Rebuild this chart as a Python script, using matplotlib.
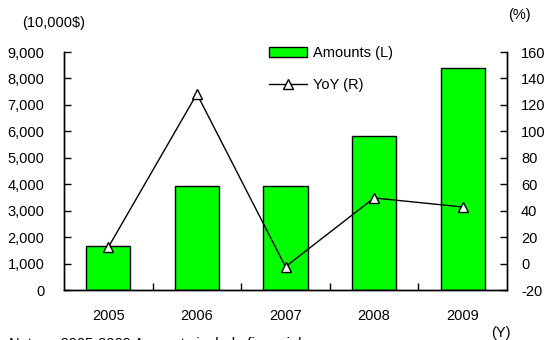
import matplotlib
matplotlib.use("Agg")
import matplotlib.pyplot as plt
from matplotlib.patches import Patch
from matplotlib.lines import Line2D
from matplotlib.ticker import FuncFormatter

# data
years = ["2005", "2006", "2007", "2008", "2009"]
amounts = [1670, 3930, 3930, 5830, 8390]     # 10,000$ (left axis)
yoy = [12.3, 128.3, -2.4, 49.6, 42.8]        # % (right axis)

left_ticks = list(range(0, 9001, 1000))
right_ticks = list(range(-20, 161, 20))

plt.rcParams["font.family"] = ["Liberation Sans", "DejaVu Sans"]
plt.rcParams["font.size"] = 10.5

W, H = 545, 340
fig = plt.figure(figsize=(W / 100, H / 100), dpi=100)
ax = fig.add_axes([64 / W, 1 - 290 / H, 443 / W, 238 / H])
ax2 = ax.twinx()

ax.bar(years, amounts, width=0.5, color="#00ff00",
       edgecolor="black", linewidth=1.0, zorder=2)
ax2.plot(years, yoy, color="black", linewidth=1.0, marker="^",
         markersize=6.5, markerfacecolor="white", markeredgecolor="black",
         markeredgewidth=1.0, zorder=3)

ax.set_xlim(-0.5, len(years) - 0.5)
ax.set_ylim(0, 9000)
ax2.set_ylim(-20, 160)
ax.set_yticks(left_ticks)
ax2.set_yticks(right_ticks)
ax.yaxis.set_major_formatter(FuncFormatter(lambda v, p: "{:,.0f}".format(v)))
ax2.yaxis.set_major_formatter(FuncFormatter(lambda v, p: "%d" % v))

# category labels without ticks, ticks at category boundaries
ax.tick_params(axis="x", which="major", length=0, pad=14)
ax.set_xticks([i + 0.5 for i in range(len(years) - 1)], minor=True)
ax.tick_params(axis="x", which="minor", direction="in", length=5, width=1)
ax.tick_params(axis="y", direction="in", length=5, width=1, pad=14)
ax2.tick_params(axis="y", direction="in", length=5, width=1, pad=10)

for a in (ax, ax2):
    a.spines["top"].set_visible(False)
    for s in ("left", "right", "bottom"):
        a.spines[s].set_linewidth(1.0)

# unit labels
fig.text(22 / W, 1 - 23 / H, "(10,000$)", ha="left", va="center")
fig.text(519 / W, 1 - 15 / H, "(%)", ha="center", va="center")
fig.text(501 / W, 1 - 333 / H, "(Y)", ha="center", va="center")
# note at the bottom edge, cut off in the source image as well
fig.text(9 / W, 1 - 337 / H, "Note:    2005-2009 Amounts include financial",
         ha="left", va="top")

handles = [
    Patch(facecolor="#00ff00", edgecolor="black", linewidth=1.0),
    Line2D([], [], color="black", linewidth=1.0, marker="^", markersize=6.5,
           markerfacecolor="white", markeredgecolor="black"),
]
fig.legend(handles, ["Amounts (L)", "YoY (R)"], loc="upper left",
           bbox_to_anchor=(269 / W, 1 - 46 / H), frameon=False,
           borderpad=0, borderaxespad=0, handlelength=2.6,
           handletextpad=0.4, labelspacing=1.25)

fig.savefig("out.png", dpi=100)
